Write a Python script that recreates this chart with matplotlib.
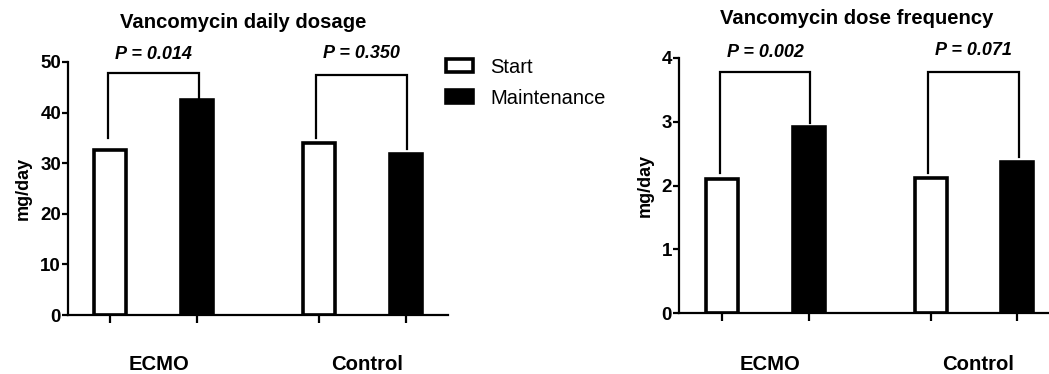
import matplotlib
matplotlib.use("Agg")
import matplotlib.pyplot as plt
from matplotlib.patches import Patch

plt.rcParams['font.family'] = ['Liberation Sans', 'DejaVu Sans']

groups = ['ECMO', 'Control']
series = ['Start', 'Maintenance']

# left panel: daily dosage (mg/day)
dose_start = [32.6, 34.0]
dose_maint = [42.5, 31.8]
dose_p = ['P = 0.014', 'P = 0.350']
dose_bracket_top = [47.9, 47.4]
dose_leg_left = [35.0, 35.0]
dose_leg_right = [42.7, 32.8]

# right panel: dose frequency
freq_start = [2.10, 2.12]
freq_maint = [2.91, 2.37]
freq_p = ['P = 0.002', 'P = 0.071']
freq_bracket_top = [3.78, 3.78]
freq_leg_left = [2.19, 2.19]
freq_leg_right = [2.98, 2.45]

pos_start = [0.0, 2.41]
pos_maint = [1.0, 3.41]
W = 0.37
LW = 1.6


def panel(ax, start, maint, pvals, top, legl, legr, ymax, ystep, xlim, ptext_y):
    ax.bar(pos_start, start, width=W, color='white', edgecolor='black', linewidth=2.6)
    ax.bar(pos_maint, maint, width=W, color='black', edgecolor='black', linewidth=2.6)
    for i in range(2):
        x0, x1 = pos_start[i] - 0.03, pos_maint[i] + 0.02
        ax.plot([x0, x0, x1, x1], [legl[i], top[i], top[i], legr[i]],
                color='black', lw=1.6, solid_joinstyle='miter', clip_on=False)
        ax.text((x0 + x1) / 2, ptext_y[i], pvals[i], ha='center', va='center',
                fontsize=13, fontweight='bold', fontstyle='italic', clip_on=False)
    ax.set_ylim(0, ymax)
    ax.set_xlim(*xlim)
    ax.set_yticks(range(0, ymax + 1, ystep))
    ax.set_xticks(pos_start + pos_maint)
    ax.set_xticklabels([])
    for s in ['top', 'right']:
        ax.spines[s].set_visible(False)
    for s in ['left', 'bottom']:
        ax.spines[s].set_linewidth(LW)
    ax.tick_params(axis='y', direction='out', length=4.5, width=LW, pad=0.5,
                   labelsize=13.5)
    ax.tick_params(axis='x', direction='out', length=6, width=LW)
    for lab in ax.get_yticklabels():
        lab.set_fontweight('bold')
    ax.set_ylabel('mg/day', fontsize=13, fontweight='bold', labelpad=6)


fig = plt.figure(figsize=(10.49, 3.74), dpi=100)
H = 374.0
Wf = 1049.0

ax1 = fig.add_axes([68 / Wf, 59 / H, 380 / Wf, 253 / H])
panel(ax1, dose_start, dose_maint, dose_p, dose_bracket_top, dose_leg_left,
      dose_leg_right, 50, 10, (-0.49, 3.90), [51.4, 51.6])

ax2 = fig.add_axes([679 / Wf, 61 / H, 370 / Wf, 255 / H])
panel(ax2, freq_start, freq_maint, freq_p, freq_bracket_top, freq_leg_left,
      freq_leg_right, 4, 1, (-0.5, 3.78), [4.08, 4.125])

fig.text(243 / Wf, 1 - 22 / H, 'Vancomycin daily dosage', ha='center', va='center',
         fontsize=14.6, fontweight='bold')
fig.text(857 / Wf, 1 - 19 / H, 'Vancomycin dose frequency', ha='center', va='center',
         fontsize=14.6, fontweight='bold')

for ax, xs in [(ax1, [159, 367]), (ax2, [770, 978])]:
    for g, x in zip(groups, xs):
        fig.text(x / Wf, 1 - 364 / H, g, ha='center', va='center',
                 fontsize=14.6, fontweight='bold')

handles = [Patch(facecolor='white', edgecolor='black', linewidth=2.6),
           Patch(facecolor='black', edgecolor='black', linewidth=2.6)]
fig.legend(handles, series, loc='upper left', bbox_to_anchor=(446 / Wf, 1 - 58 / H),
           frameon=False, fontsize=14.5, handlelength=1.35, handleheight=0.62,
           handletextpad=0.85, labelspacing=0.58, borderpad=0, borderaxespad=0)

fig.savefig('out.png', dpi=100)
